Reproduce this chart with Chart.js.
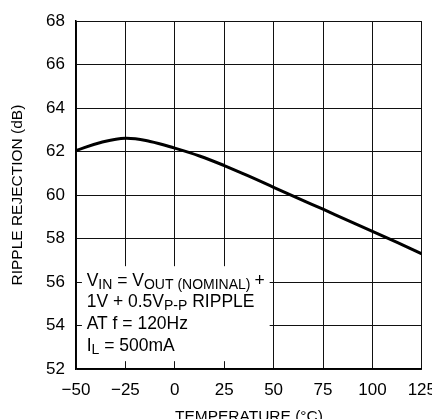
<!DOCTYPE html>
<html>
<head>
<meta charset="utf-8">
<script src="https://cdn.jsdelivr.net/npm/chart.js@4/dist/chart.umd.min.js"></script>
<style>
  html, body { margin: 0; padding: 0; background: #fff; overflow: hidden; }
  #wrap { width: 447px; height: 430px; }
</style>
</head>
<body>
<div id="wrap"><canvas id="rippleChart" width="447" height="430"></canvas></div>
<script>
// temperature (°C) vs ripple rejection (dB)
const temps = [-50, -37.5, -25, -12.5, 0, 12.5, 25, 37.5, 50, 62.5, 75, 87.5, 100, 112.5, 125];
const rejection = [62.05, 62.42, 62.62, 62.47, 62.16, 61.8, 61.36, 60.87, 60.36, 59.85, 59.35, 58.84, 58.33, 57.82, 57.3];

const xTicks = [-50, -25, 0, 25, 50, 75, 100, 125];
const yTicks = [52, 54, 56, 58, 60, 62, 64, 66, 68];

const noteLines = [
    [['V'], ['IN', 1], [' = V'], ['OUT', 1], [' (NOMINAL) ', 1], ['+']],
    [['1V + 0.5V'], ['P-P', 1], [' RIPPLE']],
    [['AT f = 120Hz']],
    [['I'], ['L', 1], [' = 500mA']]
];

const FONT = '"Liberation Sans", Arial, sans-serif';

const notePlugin = {
    id: 'note',
    beforeDatasetsDraw(chart) {
        const ctx = chart.ctx;
        const xs = chart.scales.x, ys = chart.scales.y;
        const left = xs.getPixelForValue(-47), right = xs.getPixelForValue(48);
        const top = ys.getPixelForValue(56.73), bottom = ys.getPixelForValue(52.36);
        ctx.save();
        ctx.fillStyle = '#fff';
        ctx.fillRect(left, top, right - left, bottom - top);
        ctx.fillStyle = '#000';
        ctx.textBaseline = 'alphabetic';
        ctx.textAlign = 'left';
        const x0 = xs.getPixelForValue(-44.6);
        const baseY = [55.84, 54.84, 53.84, 52.84];
        noteLines.forEach((segs, i) => {
            let x = x0;
            const y = ys.getPixelForValue(baseY[i]);
            segs.forEach(([t, sub]) => {
                ctx.font = (sub ? '14px ' : '17.5px ') + FONT;
                ctx.fillText(t, x, y + (sub ? 3 : 0));
                x += ctx.measureText(t).width;
            });
        });
        ctx.restore();
    }
};

new Chart(document.getElementById('rippleChart'), {
    type: 'line',
    data: {
        datasets: [{
            data: temps.map((t, i) => ({ x: t, y: rejection[i] })),
            borderColor: '#000',
            borderWidth: 3,
            pointRadius: 0,
            tension: 0.4,
            fill: false
        }]
    },
    options: {
        responsive: false,
        animation: false,
        layout: { padding: { top: 17, right: 20, left: 0, bottom: 0 } },
        plugins: { legend: { display: false }, tooltip: { enabled: false } },
        scales: {
            x: {
                type: 'linear',
                min: -50, max: 125,
                afterBuildTicks: s => { s.ticks = xTicks.map(v => ({ value: v })); },
                afterFit: s => { s.height = 61; },
                ticks: {
                    color: '#000',
                    padding: 11,
                    maxRotation: 0,
                    font: { family: FONT, size: 17 },
                    callback: v => String(v).replace('-', '\u2212')
                },
                grid: { color: '#111', lineWidth: 1, drawTicks: false },
                border: { color: '#000', width: 1.5 },
                title: {
                    display: true,
                    text: 'TEMPERATURE (°C)',
                    color: '#000',
                    font: { family: FONT, size: 15.5 },
                    padding: { top: 0, bottom: 4 }
                }
            },
            y: {
                min: 52, max: 68,
                afterBuildTicks: s => { s.ticks = yTicks.map(v => ({ value: v })); },
                afterFit: s => { s.width = 76; },
                ticks: {
                    color: '#000',
                    padding: 11,
                    font: { family: FONT, size: 17 }
                },
                grid: { color: '#111', lineWidth: 1, drawTicks: false },
                border: { color: '#000', width: 1.5 },
                title: {
                    display: true,
                    text: 'RIPPLE REJECTION (dB)',
                    color: '#000',
                    font: { family: FONT, size: 15.5 },
                    padding: { top: 8, bottom: 0 }
                }
            }
        }
    },
    plugins: [notePlugin]
});
</script>
</body>
</html>
